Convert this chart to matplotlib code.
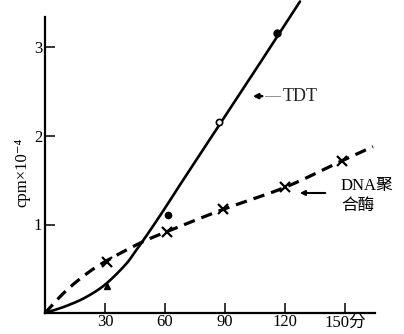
import numpy as np
import matplotlib
matplotlib.use("Agg")
import matplotlib.pyplot as plt

# ---- data ----
x_ticks = [30, 60, 90, 120, 150]
x_tick_labels = ["30", "60", "90", "120", "150分"]
y_ticks = [1, 2, 3]
y_tick_labels = ["1", "2", "3"]

# TDT measured points
tdt_x = [31, 61.5, 87, 116]
tdt_y = [0.30, 1.11, 2.16, 3.16]
# TDT fitted curve
tdt_curve_x = [0, 10, 20, 30, 40, 45, 52, 60, 70, 101, 127.5]
tdt_curve_y = [0, 0.074, 0.173, 0.32, 0.54, 0.69, 0.915, 1.185, 1.535, 2.60, 3.52]

# DNA polymerase measured points
dna_x = [31, 61, 89, 120, 148.5]
dna_y = [0.58, 0.92, 1.17, 1.42, 1.72]
# DNA polymerase curve
dna_curve_x = [0, 10, 20, 30, 47.5, 61, 89, 120, 148.5, 164]
dna_curve_y = [0, 0.24, 0.43, 0.58, 0.79, 0.92, 1.17, 1.42, 1.72, 1.88]


def smooth(xs, ys, n=20):
    """Catmull-Rom rendering through the traced points."""
    p = np.column_stack([xs, ys]).astype(float)
    p = np.vstack([2 * p[0] - p[1], p, 2 * p[-1] - p[-2]])
    out = []
    t = np.linspace(0, 1, n, endpoint=False)[:, None]
    for i in range(1, len(p) - 2):
        p0, p1, p2, p3 = p[i - 1], p[i], p[i + 1], p[i + 2]
        seg = 0.5 * ((2 * p1) + (-p0 + p2) * t + (2 * p0 - 5 * p1 + 4 * p2 - p3) * t ** 2
                     + (-p0 + 3 * p1 - 3 * p2 + p3) * t ** 3)
        out.append(seg)
    out.append(p[-2][None, :])
    out = np.vstack(out)
    return out[:, 0], out[:, 1]


serif = ["Liberation Serif", "DejaVu Serif", "Noto Sans CJK SC"]
plt.rcParams["font.family"] = serif

W, H = 404, 334
fig = plt.figure(figsize=(W / 100, H / 100), dpi=100)
x0_px, y0_px = 45, 313
px_per_min, px_per_unit = 2.0, 88.5
xmax, ymax = 165, 3.54
ax = fig.add_axes([x0_px / W, (H - y0_px) / H, xmax * px_per_min / W, ymax * px_per_unit / H])
ax.set_xlim(0, xmax)
ax.set_ylim(0, ymax)

for s in ["top", "right"]:
    ax.spines[s].set_visible(False)
ax.spines["left"].set_bounds(0, 3.34)
ax.spines["left"].set_linewidth(1.6)
ax.spines["bottom"].set_linewidth(1.6)

ax.set_xticks(x_ticks)
ax.set_xticklabels(x_tick_labels)
ax.set_yticks(y_ticks)
ax.set_yticklabels(y_tick_labels)
ax.tick_params(direction="in", length=7, width=1.1, labelsize=12)
ax.tick_params(axis="x", pad=1)
ax.tick_params(axis="y", pad=2)

# curves
cx, cy = smooth(tdt_curve_x, tdt_curve_y)
ax.plot(cx, cy, color="black", lw=1.9, solid_capstyle="round", clip_on=False)
dx, dy = smooth(dna_curve_x, dna_curve_y)
ax.plot(dx, dy, color="black", lw=2.3, dashes=(3.6, 2.2), clip_on=False)

# points
ax.plot(tdt_x[0], tdt_y[0], marker="^", ms=4.5, color="black")
ax.plot(tdt_x[1], tdt_y[1], marker="o", ms=4.5, color="black")
ax.plot(tdt_x[2], tdt_y[2], marker="o", ms=4.5, mfc="white", mec="black", mew=1.2)
ax.plot(tdt_x[3], tdt_y[3], marker="o", ms=5, color="black")
ax.plot(dna_x, dna_y, ls="none", marker="x", ms=7, mew=1.6, color="black")

# labels with arrows
ax.annotate("", xy=(102.5, 2.45), xytext=(110, 2.45),
            arrowprops=dict(arrowstyle="-|>", color="black", lw=1.8, mutation_scale=7))
ax.plot([110, 117.5], [2.45, 2.45], color="gray", lw=0.6)
ax.text(119, 2.45, "TDT", fontsize=13, va="center", ha="left", color="#222222")

ax.annotate("", xy=(126, 1.356), xytext=(141.5, 1.356),
            arrowprops=dict(arrowstyle="-|>", color="black", lw=1.5, mutation_scale=7))
ax.text(148, 1.43, "DNA聚", fontsize=12, va="center", ha="left", family=serif)
ax.text(148, 1.21, "合酶", fontsize=12, va="center", ha="left", family=serif)

fig.text(22 / W, 1 - 172 / H, "cpm×10⁻⁴", rotation=90, ha="center", va="center",
         fontsize=12, family=serif)

fig.savefig("out.png", dpi=100)
